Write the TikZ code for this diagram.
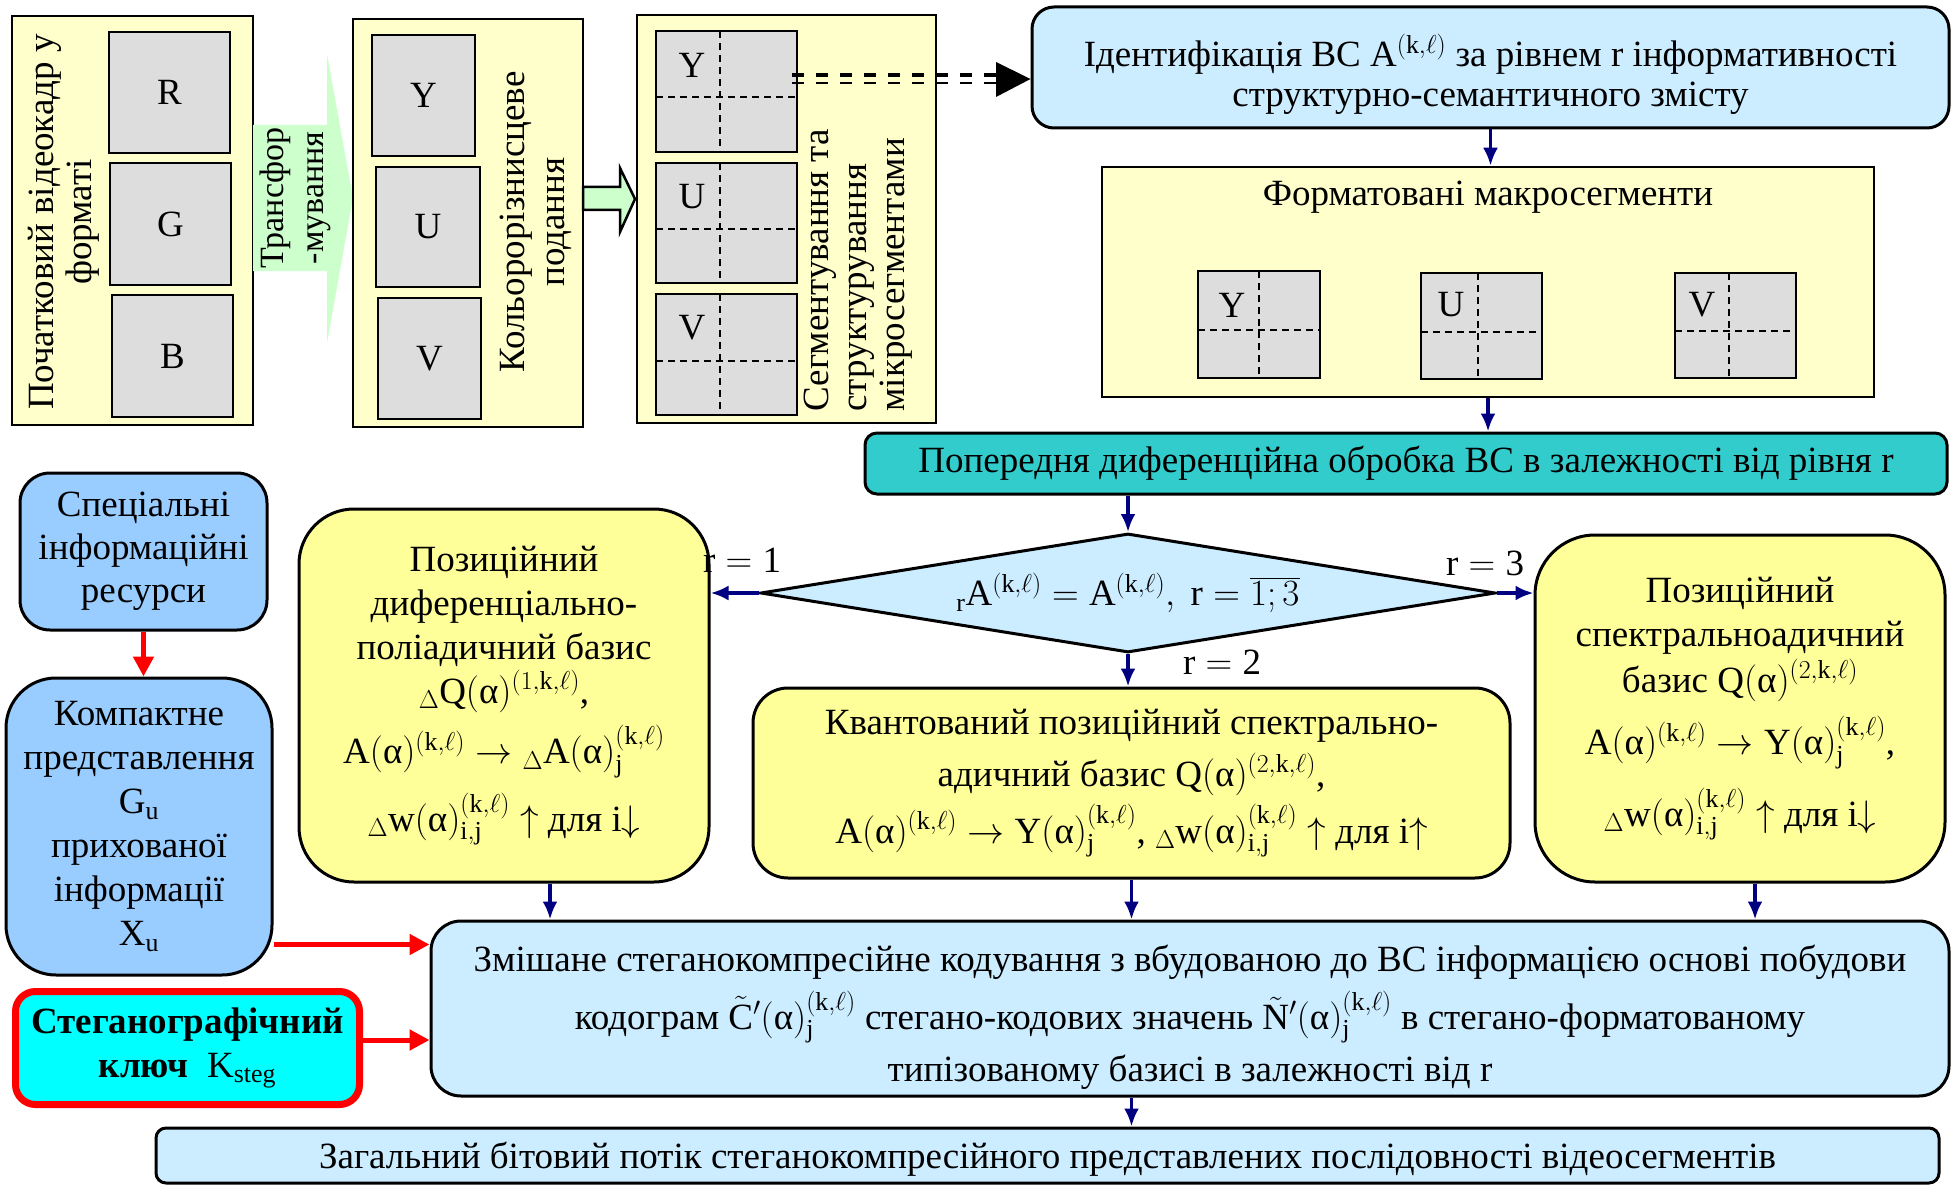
\RequirePackage{fix-cm}
\documentclass[tikz,border=0pt]{standalone}
\usepackage{amsmath}
\usepackage{fontspec}
\setmainfont{Liberation Serif}
\usetikzlibrary{arrows.meta,shapes.geometric,positioning}
\definecolor{lyel}{HTML}{FFFFCC}
\definecolor{gry}{HTML}{DDDDDD}
\definecolor{lgrn}{HTML}{CCFFCC}
\definecolor{lblu}{HTML}{CCECFF}
\definecolor{yel}{HTML}{FFFF99}
\definecolor{tealbox}{HTML}{33CCCC}
\definecolor{sky}{HTML}{99CCFF}
\definecolor{cyanbox}{HTML}{00FFFF}
\definecolor{navyarr}{HTML}{000080}
\newcommand{\alf}{\text{α}}
\newcommand{\kl}{(\mathrm{k},\ell)}
\begin{document}
\begin{tikzpicture}[x=1pt,y=-1pt,
  txt/.style={font=\fontsize{37}{44}\selectfont},
  frame/.style={draw,line width=2.5pt,fill=lyel,inner sep=0pt},
  seg/.style={draw,line width=2.5pt,fill=gry,inner sep=0pt,txt},
  rbox/.style={draw,line width=3pt,rounded corners=22pt,align=center,inner sep=0pt,txt},
  arr/.style={navyarr,line width=3.5pt,-{Latex[length=18pt,width=15pt]}},
  redarr/.style={red,line width=5pt,-{Triangle[length=20pt,width=20pt]}}]
\useasboundingbox (0,0) rectangle (1952,1185);

% first row: frames
\node[frame,minimum width=241pt,minimum height=409pt] (fr1) at (132.5,220.5) {};
\node[seg,minimum width=121pt,minimum height=121pt] (R) at (169.5,92.5) {R};
\node[seg,minimum width=121pt,minimum height=122pt] (G) at (170.5,224) {G};
\node[seg,minimum width=121pt,minimum height=122pt] (B) at (172.5,356) {B};
\node[txt,rotate=90,align=center,font=\fontsize{37}{38}\selectfont] (fr1txt) at (64,222) {Початковий відеокадр у\\форматі};

\fill[lgrn] (253,125) -- (327,125) -- (327,54) -- (353,198) -- (327,343) -- (327,271) -- (253,271) -- cycle;
\node[txt,rotate=90,align=center,font=\fontsize{34}{40}\selectfont] (trtxt) at (295,198) {Трансфор\\-мування};

\node[frame,minimum width=230pt,minimum height=408pt] (fr2) at (468,223) {};
\node[seg,minimum width=103pt,minimum height=121pt] (Y2) at (423.5,95.5) {Y};
\node[seg,minimum width=104pt,minimum height=120pt] (U2) at (428,227) {U};
\node[seg,minimum width=103pt,minimum height=121pt] (V2) at (429.5,358.5) {V};
\node[txt,rotate=90,align=center,font=\fontsize{37}{40}\selectfont] (fr2txt) at (536,222) {Кольорорізнисцеве\\подання};

\draw[line width=2.5pt,fill=lgrn] (583,187) -- (620,187) -- (620,168) -- (635,199) -- (620,232) -- (620,210) -- (583,210) -- cycle;

\node[frame,minimum width=299pt,minimum height=408pt] (fr3) at (786.5,219) {};
\foreach \n/\ya/\yb/\yh/\t in {Y3/31/152/97/Y, U3/163/283/229/U, V3/294/415/361/V}{
  \draw[seg] (656,\ya) rectangle (797,\yb);
  \draw[line width=1.5pt,dash pattern=on 7pt off 5pt] (720,\ya) -- (720,\yb) (656,\yh) -- (797,\yh);
  \node[txt] (\n) at (692,\ya+34) {\t};
}
\node[txt,rotate=90,align=left,anchor=west,font=\fontsize{37}{38}\selectfont] (fr3txt) at (858,415) {Сегментування та\\структурування\\мікросегментами};

% right column
\node[rbox,fill=lblu,minimum width=917pt,minimum height=121pt,font=\fontsize{37}{40}\selectfont] (ident) at (1490.5,67.5) {\rule{0pt}{46pt}Ідентифікація ВС $\mathrm{A}^{\kl}$ за рівнем r інформативності\\структурно-семантичного змісту};
\coordinate (dstart) at (792,79);
\draw[line width=4pt,dash pattern=on 12pt off 12pt] ([yshift=4pt]dstart) -- ([yshift=4pt]dstart -| 996,0);
\draw[line width=2pt,dash pattern=on 12pt off 12pt] ([yshift=-4pt]dstart) -- ([yshift=-4pt]dstart -| 996,0);
\fill (996,62) -- (dstart -| ident.west) -- (996,97) -- cycle;

\node[frame,minimum width=772pt,minimum height=230pt] (macro) at (1488,282) {};
\node[txt] (mtitle) at (1488,197) {Форматовані макросегменти};
\foreach \n/\xa/\xb/\xv/\ya/\yb/\yh/\t in {MY/1198/1320/1259/271/378/330/Y, MU/1421/1542/1478/273/379/332/U, MV/1675/1796/1729/273/378/331/V}{
  \draw[seg] (\xa,\ya) rectangle (\xb,\yb);
  \draw[line width=1.5pt,dash pattern=on 7pt off 5pt] (\xv,\ya) -- (\xv,\yb) (\xa,\yh) -- (\xb,\yh);
  \node[txt] (\n) at (\xv-27,305) {\t};
}
\draw[arr] (ident.south) -- (ident.south |- macro.north);

\node[rbox,fill=tealbox,rounded corners=12pt,minimum width=1082pt,minimum height=61pt] (prep) at (1406,463.5) {Попередня диференційна обробка ВС в залежності від рівня r};
\draw[arr] (macro.south) -- (macro.south |- prep.north);

\node[diamond,aspect=6.2,draw,line width=3pt,fill=lblu,minimum width=735pt,minimum height=119pt,inner sep=0pt,txt] (dec) at (1128,593) {${}_{\mathrm{r}}\mathrm{A}^{\kl}=\mathrm{A}^{\kl},\ \mathrm{r}=\overline{1;3}$};
\draw[arr] (prep.south -| dec.north) -- (dec.north);

\node[rbox,fill=yel,rounded corners=55pt,minimum width=410pt,minimum height=373pt] (posl) at (504,695.5) {Позиційний\\диференціально-\\поліадичний базис\\${}_{\Delta}\mathrm{Q}(\alf)^{(1,\mathrm{k},\ell)}$,\\[12pt]$\mathrm{A}(\alf)^{\kl}\rightarrow{}_{\Delta}\mathrm{A}(\alf)^{\kl}_{\mathrm{j}}$\\[14pt]${}_{\Delta}\mathrm{w}(\alf)^{\kl}_{\mathrm{i,j}}\uparrow$ для i$\downarrow$};
\node[rbox,fill=yel,rounded corners=60pt,minimum width=410pt,minimum height=347pt] (posr) at (1740,708.5) {Позиційний\\спектральноадичний\\[2pt]базис $\mathrm{Q}(\alf)^{(2,\mathrm{k},\ell)}$\\[14pt]$\mathrm{A}(\alf)^{\kl}\rightarrow\mathrm{Y}(\alf)^{\kl}_{\mathrm{j}}$,\\[18pt]${}_{\Delta}\mathrm{w}(\alf)^{\kl}_{\mathrm{i,j}}\uparrow$ для i$\downarrow$};
\node[rbox,fill=yel,rounded corners=35pt,minimum width=757pt,minimum height=190pt] (quant) at (1131.5,783) {Квантований позиційний спектрально-\\[8pt]адичний базис $\mathrm{Q}(\alf)^{(2,\mathrm{k},\ell)}$,\\[8pt]$\mathrm{A}(\alf)^{\kl}\rightarrow\mathrm{Y}(\alf)^{\kl}_{\mathrm{j}}$, ${}_{\Delta}\mathrm{w}(\alf)^{\kl}_{\mathrm{i,j}}\uparrow$ для i$\uparrow$};
\draw[arr] (dec.west) -- (dec.west -| posl.east);
\draw[arr] (dec.east) -- (dec.east -| posr.west);
\draw[arr] (dec.south) -- (dec.south |- quant.north);
\node[txt] (r1) at (742,560) {r${}={}$1};
\node[txt] (r3) at (1485,563) {r${}={}$3};
\node[txt] (r2) at (1222,662) {r${}={}$2};

% left column
\node[rbox,fill=sky,rounded corners=30pt,minimum width=247pt,minimum height=157pt,font=\fontsize{37}{43}\selectfont] (spec) at (143.5,551.5) {Спеціальні\\інформаційні\\ресурси};
\node[rbox,fill=sky,rounded corners=50pt,minimum width=266pt,minimum height=297pt] (comp) at (139,826.5) {Компактне\\представлення\\$\mathrm{G}_{\mathrm{u}}$\\прихованої\\інформації\\$\mathrm{X}_{\mathrm{u}}$};
\draw[redarr] (spec.south) -- (spec.south |- comp.north);
\node[rbox,fill=cyanbox,draw=red,line width=7pt,rounded corners=20pt,minimum width=344pt,minimum height=113pt] (steg) at (187.5,1048) {\textbf{Стеганографічний}\\\textbf{ключ}\ \ $\mathrm{K}_{\mathrm{steg}}$};

% bottom
\node[rbox,fill=lblu,rounded corners=30pt,minimum width=1518pt,minimum height=175pt] (mixed) at (1190,1008.5) {\rule{0pt}{44pt}Змішане стеганокомпресійне кодування з вбудованою до ВС інформацією основі побудови\\[10pt]кодограм $\tilde{\mathrm{C}}'(\alf)^{\kl}_{\mathrm{j}}$ стегано-кодових значень $\tilde{\mathrm{N}}'(\alf)^{\kl}_{\mathrm{j}}$ в стегано-форматованому\\[8pt]типізованому базисі в залежності від r};
\draw[arr] ([xshift=46pt]posl.south) -- ([xshift=46pt]posl.south |- mixed.north);
\draw[arr] (quant.south) -- (quant.south |- mixed.north);
\draw[arr] ([xshift=15pt]posr.south) -- ([xshift=15pt]posr.south |- mixed.north);
\draw[redarr] ([yshift=32pt]comp.south east) -- ([yshift=32pt]comp.south east -| mixed.west);
\draw[redarr] ([yshift=8pt]steg.east) -- ([yshift=8pt]steg.east -| mixed.west);

\node[rbox,fill=lblu,rounded corners=10pt,minimum width=1783pt,minimum height=55pt,text depth=0pt] (total) at (1047.5,1155.5) {Загальний бітовий потік стеганокомпресійного представлених послідовності відеосегментів};
\draw[arr] (quant.south |- mixed.south) -- (quant.south |- total.north);
\end{tikzpicture}
\end{document}
